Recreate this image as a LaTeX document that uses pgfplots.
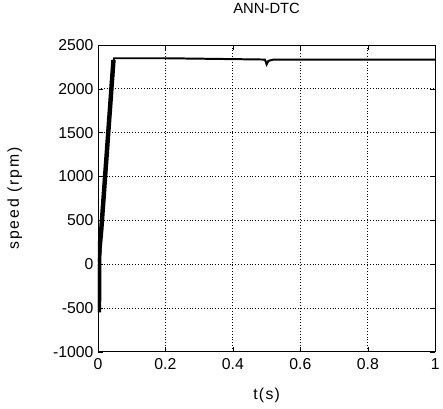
\documentclass[border=0pt]{standalone}
\usepackage{fontspec}
\setmainfont{Liberation Sans}
\newfontfamily\spacedy[LetterSpace=12]{Liberation Sans}
\newfontfamily\spacedx[LetterSpace=8]{Liberation Sans}
\usepackage{pgfplots}
\pgfplotsset{compat=1.18}

\begin{document}
\begin{tikzpicture}
\begin{axis}[
  name=ax,
  scale only axis, width=341bp, height=310bp,
  xmin=0, xmax=1, ymin=-1000, ymax=2500,
  xtick={0,0.2,0.4,0.6,0.8,1}, ytick={-1000,-500,0,500,1000,1500,2000,2500},
  xticklabels={0,0.2,0.4,0.6,0.8,1},
  /pgf/number format/assume math mode=true,
  /pgf/number format/1000 sep={},
  tick align=inside, major tick length=5bp, tick style={black, line width=0.6bp},
  axis line style={line width=0.9bp},
  grid=major, grid style={black, line width=0.9bp, dotted},
  ticklabel style={font=\fontsize{16}{18}\selectfont},
  xticklabel style={yshift=-3bp},
  yticklabel style={xshift=-1bp},
  xlabel={t(s)}, ylabel={speed (rpm)},
  xlabel style={font=\spacedx\fontsize{16}{18}\selectfont, at={(axis description cs:0.5,0)}, anchor=center, yshift=-44bp},
  ylabel style={font=\spacedy\fontsize{16}{18}\selectfont, at={(axis description cs:0,0.5)}, anchor=center, yshift=84bp},
  title={ANN-DTC},
  title style={font=\fontsize{15}{17}\selectfont, at={(axis description cs:0.5,1)}, anchor=center, yshift=31bp},
]
% oscillating start-up band (drawn as a thick stroke)
\addplot[black, line width=4.5bp, line cap=butt] coordinates {
 (0.003,-550) (0.004,150) (0.010,400) (0.046,2330)
};
\addplot[black, line width=2bp, line join=miter] coordinates {
 (0,0) (0.0005,-550) (0.004,-450) (0.000,-350) (0.005,-250) (0.001,-150)
 (0.006,-50) (0.002,50) (0.008,150) (0.005,250) (0.011,350) (0.009,450)
 (0.015,550) (0.013,650) (0.019,750) (0.017,850) (0.022,950) (0.020,1050)
 (0.026,1150) (0.024,1250) (0.030,1350) (0.028,1450) (0.034,1550) (0.032,1650)
 (0.037,1750) (0.035,1850) (0.041,1950) (0.039,2050) (0.045,2150) (0.043,2250)
 (0.048,2350)
 (0.05,2350) (0.2,2350) (0.3,2345) (0.4,2340) (0.495,2335) (0.5,2280)
 (0.505,2320) (0.52,2335) (0.7,2335) (1,2335)
};
\end{axis}
\path ([xshift=-99bp,yshift=-57bp]ax.south west) rectangle ([xshift=4bp,yshift=43bp]ax.north east);
\end{tikzpicture}
\end{document}
